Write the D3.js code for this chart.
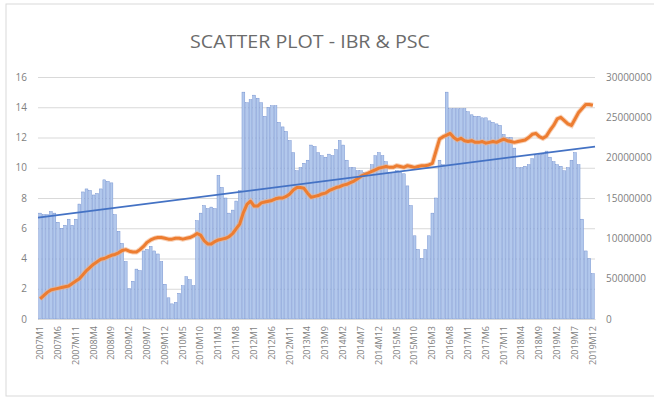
<!DOCTYPE html>
<html>
<head>
<meta charset="utf-8">
<script src="https://cdn.jsdelivr.net/npm/d3@7"></script>
<style>
  body { margin: 0; background: #fff; }
  text { font-family: "Open Sans", "DejaVu Sans", sans-serif; }
</style>
</head>
<body>
<svg id="chart"></svg>
<script>
// IBR (left axis, bars) monthly 2007M1 .. 2019M12
const ibr = [
  7.0, 6.9, 6.9, 7.1, 7.0, 6.4, 6.0, 6.2, 6.6, 6.2, 6.6, 7.6,
  8.4, 8.6, 8.5, 8.2, 8.3, 8.6, 9.2, 9.1, 9.0, 6.9, 5.8, 5.0,
  3.8, 2.0, 2.5, 3.3, 3.2, 4.5, 4.6, 4.8, 4.5, 4.3, 3.8, 2.3,
  1.4, 1.0, 1.1, 1.7, 2.2, 2.8, 2.6, 2.2, 6.5, 7.0, 7.5, 7.3,
  7.4, 7.3, 9.5, 8.7, 8.0, 7.0, 7.2, 7.8, 8.5, 15.0, 14.3, 14.5,
  14.8, 14.6, 14.3, 13.4, 14.0, 14.1, 14.1, 13.0, 12.7, 12.4, 11.8, 11.0,
  9.8, 10.0, 10.3, 10.5, 11.5, 11.4, 11.0, 10.8, 10.7, 10.9, 10.8, 11.2,
  11.8, 11.5, 10.5, 10.0, 10.0, 9.8, 9.8, 9.7, 9.7, 10.2, 10.8, 11.0,
  10.8, 10.4, 9.7, 9.7, 9.8, 9.7, 9.6, 8.8, 7.5, 5.5, 4.6, 4.0,
  4.6, 5.5, 7.0, 8.0, 10.5, 10.2, 15.0, 13.9, 13.9, 13.9, 13.9, 13.9,
  13.7, 13.5, 13.4, 13.4, 13.3, 13.3, 13.1, 13.0, 12.9, 12.8, 12.2, 12.0,
  12.0, 11.3, 10.0, 10.0, 10.1, 10.2, 10.6, 10.8, 10.9, 10.9, 11.1, 10.7,
  10.4, 10.2, 10.1, 9.8, 10.0, 10.5, 11.0, 10.2, 6.6, 4.5, 4.0, 3.0
];

// PSC (right axis, line) in millions
const psc = [
  2.5, 2.9, 3.3, 3.6, 3.7, 3.8, 3.9, 4.0, 4.1, 4.4, 4.7, 5.0,
  5.5, 6.0, 6.4, 6.8, 7.1, 7.4, 7.5, 7.7, 7.9, 8.0, 8.2, 8.5,
  8.6, 8.4, 8.3, 8.3, 8.6, 9.0, 9.5, 9.8, 10.0, 10.1, 10.1, 10.0,
  9.9, 9.9, 10.0, 10.0, 9.9, 10.0, 10.1, 10.3, 10.6, 10.4, 9.7, 9.3,
  9.3, 9.6, 9.8, 9.9, 10.0, 10.2, 10.6, 11.2, 11.8, 13.2, 14.2, 14.6,
  14.0, 14.0, 14.4, 14.5, 14.6, 14.7, 14.9, 15.0, 15.0, 15.2, 15.5, 16.0,
  16.3, 16.3, 16.2, 15.6, 15.1, 15.2, 15.3, 15.5, 15.6, 15.9, 16.1, 16.3,
  16.4, 16.6, 16.7, 16.9, 17.1, 17.4, 17.7, 17.9, 18.1, 18.3, 18.5, 18.7,
  18.8, 18.9, 18.8, 18.8, 19.0, 18.9, 18.8, 19.0, 18.9, 18.8, 18.9, 19.0,
  19.0, 19.1, 19.3, 20.8, 22.3, 22.6, 22.8, 23.0, 22.5, 22.2, 22.4, 22.1,
  22.0, 22.1, 21.9, 21.9, 22.0, 21.8, 21.9, 22.0, 21.9, 22.1, 22.3, 22.1,
  22.0, 21.9, 22.0, 22.1, 22.2, 22.5, 22.9, 23.0, 22.6, 22.4, 22.7, 23.4,
  24.0, 24.8, 25.0, 24.6, 24.2, 24.0, 24.8, 25.6, 26.1, 26.6, 26.6, 26.5
];

// linear trend (left axis) at first and last month
const trend = [6.7, 11.4];

const leftTicks = [0, 2, 4, 6, 8, 10, 12, 14, 16];
const rightTicks = [0, 5000000, 10000000, 15000000, 20000000, 25000000, 30000000];

const months = [];
for (let y = 2007; y <= 2019; y++) {
    for (let m = 1; m <= 12; m++) months.push(y + "M" + m);
}
const shownLabels = months.filter((d, i) => i % 5 === 0);

const W = 654, H = 400;
const margin = { top: 77, right: 59, bottom: 81, left: 38 };
const width = W - margin.left - margin.right;
const height = H - margin.top - margin.bottom;

const svg = d3.select("#chart").attr("width", W).attr("height", H);

// chart area border
svg.append("rect")
    .attr("x", 6).attr("y", 4)
    .attr("width", W).attr("height", H - 8)
    .attr("fill", "none").attr("stroke", "#d9d9d9");

svg.append("text")
    .attr("x", 310).attr("y", 48)
    .attr("text-anchor", "middle")
    .attr("font-size", 19)
    .attr("fill", "#6b6b6b")
    .attr("textLength", 240)
    .attr("lengthAdjust", "spacingAndGlyphs")
    .text("SCATTER PLOT - IBR & PSC");

const g = svg.append("g")
    .attr("transform", "translate(" + margin.left + "," + margin.top + ")");

const x = d3.scaleBand().domain(months).range([0, width]).padding(0.2);
const y = d3.scaleLinear().domain([0, 16]).range([height, 0]);
const y2 = d3.scaleLinear().domain([0, 30000000]).range([height, 0]);

// gridlines
g.append("g")
    .call(d3.axisLeft(y).tickValues(leftTicks).tickSize(-width).tickFormat(""))
    .call(s => s.select(".domain").remove())
    .selectAll("line").attr("stroke", "#d9d9d9");

g.append("g")
    .call(d3.axisLeft(y).tickValues(leftTicks).tickSize(0).tickPadding(11))
    .call(s => s.select(".domain").remove())
    .selectAll("text").attr("fill", "#7f7f7f").attr("font-size", 10);

g.append("g")
    .attr("transform", "translate(" + width + ",0)")
    .call(d3.axisRight(y2).tickValues(rightTicks).tickSize(0).tickPadding(11).tickFormat(d3.format("d")))
    .call(s => s.select(".domain").remove())
    .selectAll("text").attr("fill", "#7f7f7f").attr("font-size", 10);

g.selectAll(".bar")
    .data(ibr)
    .enter().append("rect")
    .attr("class", "bar")
    .attr("x", (d, i) => x(months[i]))
    .attr("width", x.bandwidth())
    .attr("y", d => y(d))
    .attr("height", d => height - y(d))
    .attr("fill", "#b2c8ec")
    .attr("stroke", "#6585ca")
    .attr("stroke-width", 0.4);

// x axis
g.append("g")
    .attr("transform", "translate(0," + height + ")")
    .call(d3.axisBottom(x).tickValues(shownLabels).tickSize(0).tickPadding(0))
    .call(s => s.select(".domain").attr("stroke", "#d9d9d9"))
    .selectAll("text")
    .attr("fill", "#7f7f7f")
    .attr("font-size", 9)
    .attr("transform", "rotate(-90)")
    .attr("x", -7).attr("y", 0).attr("dy", "0.32em")
    .style("text-anchor", "end");

const xc = i => x(months[i]) + x.bandwidth() / 2;

const line = d3.line()
    .x((d, i) => xc(i))
    .y(d => y2(d * 1000000));

g.append("path")
    .datum(psc)
    .attr("fill", "none")
    .attr("stroke", "#f4b183")
    .attr("stroke-width", 5)
    .attr("opacity", 0.6)
    .attr("d", line);

g.append("path")
    .datum(psc)
    .attr("fill", "none")
    .attr("stroke", "#ed7d31")
    .attr("stroke-width", 3)
    .attr("stroke-linejoin", "round")
    .attr("d", line);

g.append("line")
    .attr("x1", 0).attr("x2", width)
    .attr("y1", y(trend[0])).attr("y2", y(trend[1]))
    .attr("stroke", "#4472c4")
    .attr("stroke-width", 1.8);
</script>
</body>
</html>
